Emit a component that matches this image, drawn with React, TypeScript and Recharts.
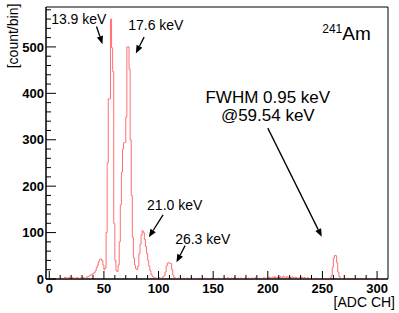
import React from 'react';
import { LineChart, Line, XAxis, YAxis, ReferenceArea, ReferenceLine, ReferenceDot } from 'recharts';

// ADC channel (bin low edge) and counts per bin
const channels: number[] = Array.from({ length: 310 }, (_, i) => i);
const counts: number[] = [
  0, 0, 0, 0, 0, 0, 0, 0, 0, 0,
  0, 0, 0, 0, 4, 3, 1, 2, 4, 1,
  2, 3, 1, 2, 1, 3, 2, 1, 2, 1,
  2, 3, 2, 1, 4, 5, 6, 8, 9, 10,
  12, 14, 18, 25, 30, 38, 42, 43, 40, 30,
  20, 24, 100, 250, 388, 388, 560, 498, 447, 120,
  40, 18, 16, 30, 80, 160, 230, 280, 294, 294,
  349, 500, 500, 452, 300, 180, 90, 45, 30, 22,
  20, 28, 55, 75, 95, 104, 100, 85, 70, 55,
  40, 28, 18, 10, 6, 4, 3, 2, 1, 2,
  3, 2, 1, 3, 5, 8, 15, 28, 34, 35,
  34, 33, 20, 8, 3, 2, 1, 0, 2, 1,
  0, 1, 2, 0, 1, 0, 2, 1, 0, 1,
  2, 0, 1, 0, 0, 1, 2, 0, 1, 0,
  1, 0, 2, 1, 0, 0, 1, 0, 2, 0,
  0, 1, 0, 0, 2, 1, 0, 0, 1, 0,
  2, 1, 0, 3, 1, 0, 2, 0, 1, 3,
  1, 0, 2, 0, 1, 2, 0, 1, 0, 2,
  0, 1, 2, 1, 0, 2, 1, 0, 3, 1,
  1, 0, 2, 1, 0, 1, 3, 1, 0, 2,
  2, 4, 3, 1, 4, 2, 5, 3, 2, 4,
  3, 5, 2, 4, 6, 3, 2, 5, 4, 3,
  4, 2, 5, 3, 2, 4, 3, 1, 2, 3,
  2, 4, 1, 3, 2, 1, 3, 1, 0, 2,
  1, 0, 1, 0, 2, 0, 1, 0, 0, 1,
  0, 1, 0, 0, 1, 0, 1, 3, 8, 25,
  45, 51, 50, 35, 15, 6, 2, 1, 0, 1,
  0, 0, 1, 0, 0, 1, 0, 0, 0, 1,
  0, 0, 0, 1, 0, 0, 0, 0, 1, 0,
  0, 0, 1, 0, 0, 0, 0, 0, 0, 0,
  0, 0, 0, 0, 0, 0, 0, 0, 0, 0,
];

const xTicks = [0, 10, 20, 30, 40, 50, 60, 70, 80, 90, 100, 110, 120, 130, 140, 150, 160, 170, 180, 190, 200, 210, 220, 230, 240, 250, 260, 270, 280, 290, 300];
const xMajor = [0, 50, 100, 150, 200, 250, 300];
const yTicks = [0, 20, 40, 60, 80, 100, 120, 140, 160, 180, 200, 220, 240, 260, 280, 300, 320, 340, 360, 380, 400, 420, 440, 460, 480, 500, 520, 540, 560, 580];
const yMajor = [0, 100, 200, 300, 400, 500];

// peak labels (anchored in data coordinates)
const peakLabels = ['13.9 keV', '17.6 keV', '21.0 keV', '26.3 keV'];
const peakLabelX = [27, 97.5, 114.8, 140.5];
const peakLabelY = [560, 548, 160, 87];
const arrowFromX = [43.2, 86.8, 104.1, 124.3, 200];
const arrowFromY = [544, 521, 138, 72, 325];
const arrowToX = [48.7, 79.2, 91.1, 116.4, 249.4];
const arrowToY = [506, 486, 90, 36, 91];
const fwhmLines = ['FWHM 0.95 keV', '@59.54 keV'];
const fwhmX = 200;
const fwhmY = [393, 354];
const isotopeX = 272;
const isotopeY = 531;

const data = channels.map((ch, i) => ({ ch, n: counts[i] }));

const FONT = '"Liberation Sans", Arial, Helvetica, sans-serif';
const AXIS = '#000';

const XTick = (props: any) => {
  const { x, y, payload } = props;
  const major = xMajor.includes(payload.value);
  return (
    <g>
      <line x1={x} y1={y} x2={x} y2={y - (major ? 8 : 4)} stroke={AXIS} strokeWidth={1} />
      {major && (
        <text x={x} y={y + 13.5} textAnchor="middle" fontFamily={FONT} fontWeight="bold" fontSize={13} fill="#000">
          {payload.value}
        </text>
      )}
    </g>
  );
};

const YTick = (props: any) => {
  const { x, y, payload } = props;
  const major = yMajor.includes(payload.value);
  return (
    <g>
      <line x1={x} y1={y} x2={x + (major ? 10 : 5)} y2={y} stroke={AXIS} strokeWidth={1} />
      {major && (
        <text x={x - 2} y={y + 4.6} textAnchor="end" fontFamily={FONT} fontWeight="bold" fontSize={13} fill="#000">
          {payload.value}
        </text>
      )}
    </g>
  );
};

const Arrow = (props: any) => {
  const { x1, y1, x2, y2 } = props;
  const dx = x2 - x1;
  const dy = y2 - y1;
  const len = Math.sqrt(dx * dx + dy * dy) || 1;
  const ux = dx / len;
  const uy = dy / len;
  const hl = 8;
  const hw = 3.2;
  const bx = x2 - ux * hl;
  const by = y2 - uy * hl;
  const pts = `${x2},${y2} ${bx - uy * hw},${by + ux * hw} ${bx + uy * hw},${by - ux * hw}`;
  return (
    <g>
      <line x1={x1} y1={y1} x2={bx} y2={by} stroke="#000" strokeWidth={1.3} />
      <polygon points={pts} fill="#000" />
    </g>
  );
};

const makeText = (label: string, size = 14) => (props: any) => (
  <text x={props.cx} y={props.cy + size * 0.36} textAnchor="middle" fontFamily={FONT} fontSize={size} fill="#000">
    {label}
  </text>
);

const Isotope = (props: any) => (
  <text x={props.cx} y={props.cy + 7} textAnchor="middle" fontFamily={FONT} fill="#000">
    <tspan fontSize={12} dy={-7}>241</tspan>
    <tspan fontSize={19} dy={7}>Am</tspan>
  </text>
);

export default function App() {
  return (
    <div style={{ position: 'absolute', left: 0, top: 0, width: 399, height: 313, background: '#fff' }}>
      <LineChart width={399} height={313} data={data} margin={{ top: 7, right: 11, bottom: 0, left: 0 }}>
        <XAxis
          type="number"
          dataKey="ch"
          domain={[-3, 310]}
          allowDataOverflow
          ticks={xTicks}
          interval={0}
          tickSize={0}
          tickMargin={0}
          tickLine={false}
          tick={<XTick />}
          axisLine={{ stroke: AXIS }}
          height={34}
          label={(p: any) => {
            const vb = p.viewBox;
            return (
              <text x={vb.x + vb.width + 7} y={vb.y + 28} textAnchor="end" fontFamily={FONT} fontSize={14} fill="#000">
                [ADC CH]
              </text>
            );
          }}
        />
        <YAxis
          type="number"
          domain={[0, 586]}
          allowDataOverflow
          ticks={yTicks}
          interval={0}
          tickSize={0}
          tickMargin={0}
          tickLine={false}
          tick={<YTick />}
          axisLine={{ stroke: AXIS }}
          width={46}
          label={(p: any) => {
            const vb = p.viewBox;
            const cx = vb.x + 13;
            const cy = vb.y + 29;
            return (
              <text x={cx} y={cy} transform={`rotate(-90 ${cx} ${cy})`} textAnchor="middle" dominantBaseline="central" fontFamily={FONT} fontSize={14} fill="#000">
                [count/bin]
              </text>
            );
          }}
        />
        <ReferenceArea x1={-3} x2={310} y1={0} y2={586} fill="none" stroke={AXIS} strokeWidth={1} />
        <Line
          type="stepAfter"
          dataKey="n"
          stroke="#ff7070"
          strokeWidth={1}
          dot={false}
          activeDot={false}
          isAnimationActive={false}
        />
        {arrowFromX.map((fx, i) => (
          <ReferenceLine
            key={`a${i}`}
            segment={[{ x: fx, y: arrowFromY[i] }, { x: arrowToX[i], y: arrowToY[i] }]}
            shape={Arrow}
          />
        ))}
        {peakLabels.map((t, i) => (
          <ReferenceDot key={`l${i}`} x={peakLabelX[i]} y={peakLabelY[i]} r={0} shape={makeText(t)} />
        ))}
        {fwhmLines.map((t, i) => (
          <ReferenceDot key={`f${i}`} x={fwhmX} y={fwhmY[i]} r={0} shape={makeText(t, 17)} />
        ))}
        <ReferenceDot x={isotopeX} y={isotopeY} r={0} shape={Isotope} />
      </LineChart>
    </div>
  );
}
